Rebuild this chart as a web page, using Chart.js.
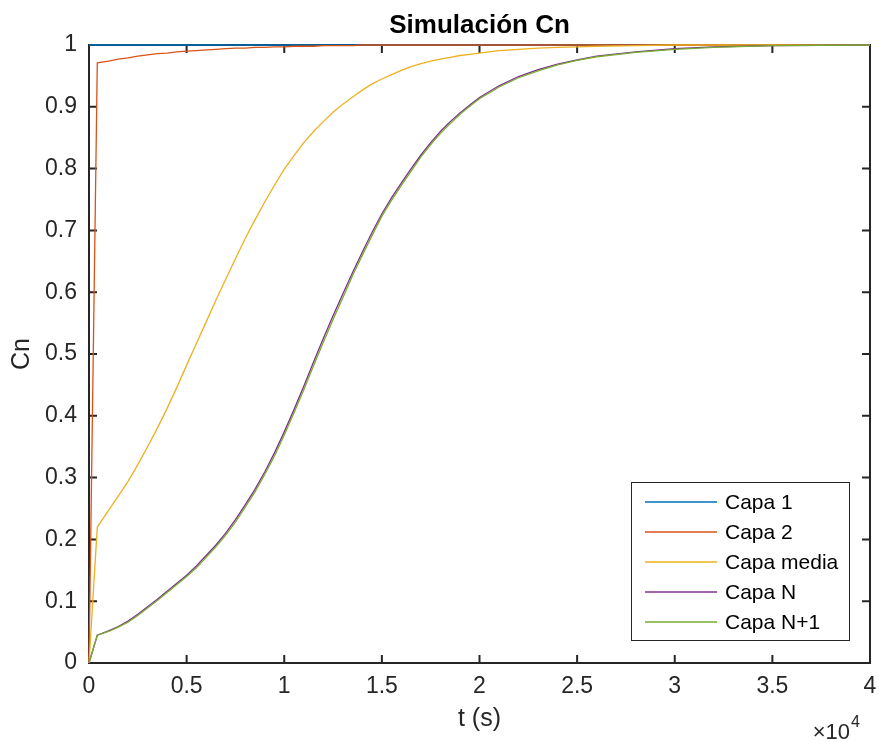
<!DOCTYPE html>
<html>
<head>
<meta charset="utf-8">
<script src="https://cdn.jsdelivr.net/npm/chart.js@4/dist/chart.umd.min.js"></script>
<style>
  body { margin: 0; background: #ffffff; }
  #wrap { width: 879px; height: 742px; }
</style>
</head>
<body>
<div id="wrap"><canvas id="cnChart" width="879" height="742"></canvas></div>
<script>
// tiempo (s) y concentraciones
var tiempo = [0, 425,
              1000, 1500, 2000, 2500, 3000, 3500, 4000, 4500, 5000, 5500,
              6000, 6500, 7000, 7500, 8000, 8500, 9000, 9500, 10000, 10500,
              11000, 11500, 12000, 12500, 13000, 13500, 14000, 14500, 15000, 15500,
              16000, 16500, 17000, 17500, 18000, 18500, 19000, 19500, 20000,
              21000, 22000, 23000, 24000, 25000, 26000,
              28000, 30000, 32000, 35000, 40000];

var capa1 = [1, 1,
             1, 1, 1, 1, 1, 1, 1, 1, 1, 1,
             1, 1, 1, 1, 1, 1, 1, 1, 1, 1,
             1, 1, 1, 1, 1, 1, 1, 1, 1, 1,
             1, 1, 1, 1, 1, 1, 1, 1, 1,
             1, 1, 1, 1, 1, 1,
             1, 1, 1, 1, 1];
var capa2 = [0, 0.971,
             0.974, 0.977, 0.979, 0.982, 0.984, 0.986, 0.987, 0.989, 0.990, 0.991,
             0.992, 0.993, 0.994, 0.995, 0.995, 0.996, 0.996, 0.997, 0.997, 0.998,
             0.998, 0.998, 0.999, 0.999, 0.999, 0.999, 1, 1, 1, 1,
             1, 1, 1, 1, 1, 1, 1, 1, 1,
             1, 1, 1, 1, 1, 1,
             1, 1, 1, 1, 1];
var capaMedia = [0, 0.220,
                 0.247, 0.270, 0.294, 0.321, 0.350, 0.380, 0.412, 0.446, 0.482, 0.517,
                 0.552, 0.587, 0.621, 0.654, 0.687, 0.717, 0.746, 0.773, 0.799, 0.821,
                 0.842, 0.860, 0.876, 0.891, 0.904, 0.916, 0.927, 0.937, 0.945, 0.952,
                 0.959, 0.965, 0.970, 0.974, 0.977, 0.980, 0.983, 0.985, 0.987,
                 0.991, 0.993, 0.995, 0.996, 0.997, 0.998,
                 0.999, 1, 1, 1, 1];
var capaN = [0, 0.045,
             0.052, 0.059, 0.068, 0.079, 0.091, 0.103, 0.116, 0.129, 0.142, 0.157,
             0.174, 0.191, 0.210, 0.232, 0.256, 0.281, 0.309, 0.340, 0.374, 0.410,
             0.448, 0.487, 0.525, 0.562, 0.597, 0.632, 0.665, 0.697, 0.727, 0.753,
             0.777, 0.800, 0.822, 0.842, 0.860, 0.876, 0.890, 0.903, 0.915,
             0.934, 0.949, 0.960, 0.969, 0.976, 0.982,
             0.989, 0.994, 0.997, 0.999, 1];
var capaN1 = [0, 0.045,
              0.051, 0.058, 0.066, 0.077, 0.089, 0.101, 0.114, 0.127, 0.140, 0.154,
              0.171, 0.188, 0.207, 0.228, 0.252, 0.277, 0.305, 0.335, 0.369, 0.405,
              0.442, 0.481, 0.519, 0.556, 0.591, 0.627, 0.660, 0.692, 0.723, 0.749,
              0.773, 0.796, 0.819, 0.839, 0.857, 0.873, 0.888, 0.901, 0.913,
              0.932, 0.947, 0.958, 0.968, 0.975, 0.981,
              0.988, 0.993, 0.996, 0.999, 1];

var etiquetas = ['Capa 1', 'Capa 2', 'Capa media', 'Capa N', 'Capa N+1'];
var colores   = ['#0072BD', '#D95319', '#EDB120', '#7E2F8E', '#77AC30'];
var series    = [capa1, capa2, capaMedia, capaN, capaN1];

var fuente  = "'Liberation Sans', Arial, Helvetica, sans-serif";
var ejeCol  = '#262626';

function puntos(valores) {
    return tiempo.map(function (t, i) { return { x: t, y: valores[i] }; });
}

// marco, marcas interiores, leyenda y exponente al estilo MATLAB
var matlabEjes = {
    id: 'matlabEjes',
    beforeDatasetsDraw: function (chart) {
        var ctx = chart.ctx, a = chart.chartArea;
        var sx = chart.scales.x, sy = chart.scales.y;
        ctx.save();
        ctx.strokeStyle = ejeCol;
        ctx.lineWidth = 2;
        ctx.strokeRect(a.left, a.top, a.right - a.left, a.bottom - a.top);
        ctx.beginPath();
        sx.ticks.forEach(function (tk) {
            var px = sx.getPixelForValue(tk.value);
            ctx.moveTo(px, a.bottom); ctx.lineTo(px, a.bottom - 8);
            ctx.moveTo(px, a.top);    ctx.lineTo(px, a.top + 8);
        });
        sy.ticks.forEach(function (tk) {
            var py = sy.getPixelForValue(tk.value);
            ctx.moveTo(a.left, py);  ctx.lineTo(a.left + 8, py);
            ctx.moveTo(a.right, py); ctx.lineTo(a.right - 8, py);
        });
        ctx.stroke();
        ctx.restore();
    },
    afterDatasetsDraw: function (chart) {
        var ctx = chart.ctx, a = chart.chartArea;
        ctx.save();
        // leyenda
        var bw = 218, bh = 158;
        var bx = a.right - 21 - bw, by = a.bottom - 23 - bh;
        ctx.fillStyle = '#ffffff';
        ctx.fillRect(bx, by, bw, bh);
        ctx.strokeStyle = ejeCol;
        ctx.lineWidth = 1;
        ctx.strokeRect(bx + 0.5, by + 0.5, bw, bh);
        ctx.font = '21px ' + fuente;
        ctx.textBaseline = 'middle';
        chart.data.datasets.forEach(function (ds, i) {
            var ry = by + 20 + i * 30;
            ctx.strokeStyle = ds.borderColor;
            ctx.lineWidth = 1.3;
            ctx.beginPath();
            ctx.moveTo(bx + 14, ry); ctx.lineTo(bx + 86, ry);
            ctx.stroke();
            ctx.fillStyle = '#000000';
            ctx.fillText(ds.label, bx + 94, ry + 1);
        });
        // exponente del eje x
        ctx.fillStyle = ejeCol;
        ctx.textBaseline = 'alphabetic';
        ctx.textAlign = 'right';
        ctx.font = '22px ' + fuente;
        ctx.fillText('\u00d710', a.right - 20, 739);
        ctx.textAlign = 'left';
        ctx.font = '16px ' + fuente;
        ctx.fillText('4', a.right - 19, 727);
        ctx.restore();
    }
};

new Chart(document.getElementById('cnChart'), {
    type: 'line',
    data: {
        datasets: series.map(function (s, i) {
            return {
                label: etiquetas[i],
                data: puntos(s),
                borderColor: colores[i],
                backgroundColor: colores[i],
                borderWidth: 1.3,
                pointRadius: 0,
                tension: 0,
                clip: false,
                order: 5 - i
            };
        })
    },
    options: {
        responsive: false,
        animation: false,
        layout: { padding: { left: 0, right: 0, top: 0, bottom: 0 } },
        plugins: {
            legend: { display: false },
            tooltip: { enabled: false },
            title: {
                display: true,
                fullSize: false,
                text: 'Simulación Cn',
                color: '#000000',
                font: { family: fuente, size: 26, weight: 'bold' },
                padding: { top: 10, bottom: 3.8 }
            }
        },
        scales: {
            x: {
                type: 'linear',
                min: 0,
                max: 40000,
                grid: { display: false, drawTicks: false },
                border: { display: false },
                ticks: {
                    stepSize: 5000,
                    color: ejeCol,
                    padding: 10,
                    maxRotation: 0,
                    font: { family: fuente, size: 23 },
                    callback: function (v) { return v / 10000; }
                },
                title: {
                    display: true,
                    text: 't (s)',
                    color: ejeCol,
                    font: { family: fuente, size: 25 },
                    padding: { top: 0, bottom: 8 }
                },
                afterFit: function (s) { s.height = 79; s.paddingRight = 9; }
            },
            y: {
                min: 0,
                max: 1,
                grid: { display: false, drawTicks: false },
                border: { display: false },
                ticks: {
                    stepSize: 0.1,
                    color: ejeCol,
                    padding: 12,
                    font: { family: fuente, size: 23 },
                    callback: function (v) { return String(Math.round(v * 10) / 10); }
                },
                title: {
                    display: true,
                    text: 'Cn',
                    color: ejeCol,
                    font: { family: fuente, size: 25 },
                    padding: { top: 7, bottom: 0 }
                },
                afterFit: function (s) { s.width = 89; }
            }
        }
    },
    plugins: [matlabEjes]
});
</script>
</body>
</html>
